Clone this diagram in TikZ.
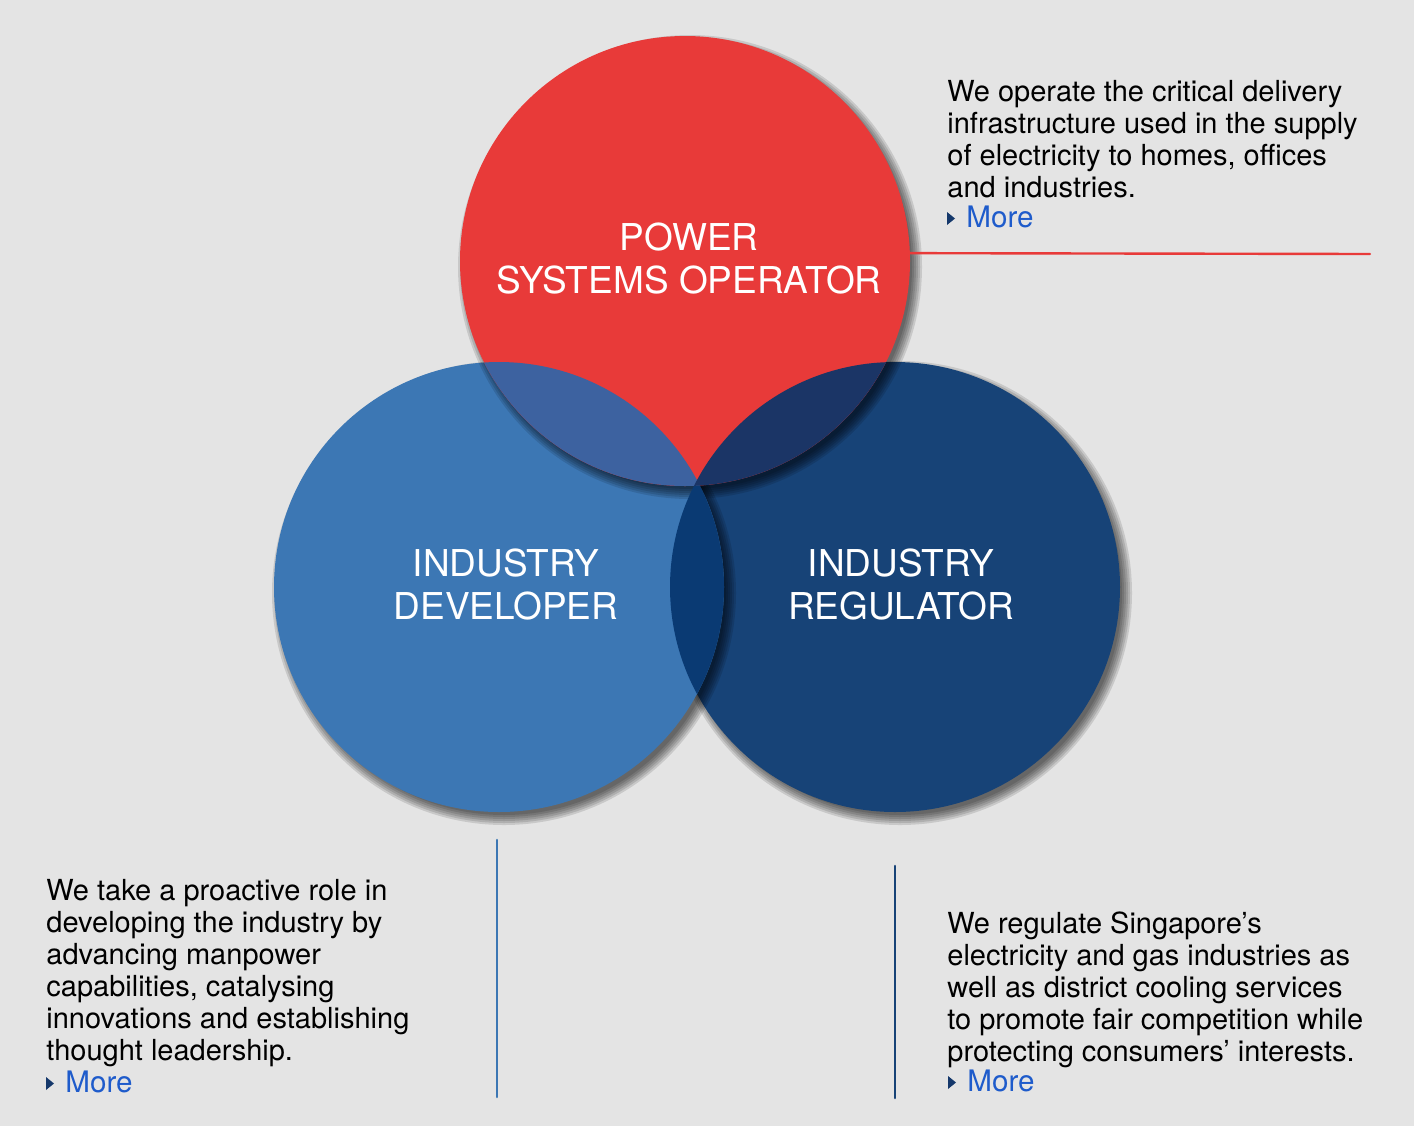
\documentclass[tikz,border=0pt]{standalone}
\usepackage{fontspec}
\setmainfont{TeX Gyre Heros}
\usetikzlibrary{positioning}

\definecolor{bggray}{HTML}{E4E4E4}
\definecolor{psored}{HTML}{E83A39}
\definecolor{devblue}{HTML}{3C77B4}
\definecolor{regblue}{HTML}{174377}
\definecolor{psodev}{HTML}{3D62A0}
\definecolor{psoreg}{HTML}{1B3566}
\definecolor{devreg}{HTML}{0A3A73}
\definecolor{moreblue}{HTML}{1E5BCB}
\definecolor{marknavy}{HTML}{15386B}

\begin{document}
\begin{tikzpicture}[line cap=round,line join=round,x=0.5pt,y=-0.5pt,
	disc/.style={circle,inner sep=0pt,minimum size=225pt},
	disctext/.style={text=white,align=center,inner sep=0pt,font=\fontsize{18.5}{21.5}\selectfont},
	para/.style={anchor=north west,inner sep=0pt,align=left,font=\fontsize{14.5}{16}\selectfont},
	more/.style={anchor=base west,inner sep=0pt,text=moreblue,font=\fontsize{14.8}{16}\selectfont}]

		%tausta
		\fill[bggray] (0,0) rectangle (1414,1126);
		\useasboundingbox (0,0) rectangle (1414,1126);

		%varjot ja ympyrat
		\foreach \r in {116pt,115pt,114pt,113pt,112pt,111pt}
		{\fill[black,opacity=0.12] (900,593) circle [radius=\r];}
		\node[disc,fill=regblue] (reg) at (895,587) {};

		\foreach \r in {116pt,115pt,114pt,113pt,112pt,111pt}
		{\fill[black,opacity=0.12] (504,593) circle [radius=\r];}
		\node[disc,fill=devblue] (dev) at (499,587) {};

		\foreach \r in {116pt,115pt,114pt,113pt,112pt,111pt}
		{\fill[black,opacity=0.12] (690,267) circle [radius=\r];}
		\node[disc,fill=psored] (pso) at (685,261) {};

		%leikkaukset
		\begin{scope}
		\clip (dev.center) circle [radius=112.5pt];
		\fill[devreg] (reg.center) circle [radius=112.5pt];
		\end{scope}
		\begin{scope}
		\clip (pso.center) circle [radius=112.5pt];
		\fill[psodev] (dev.center) circle [radius=112.5pt];
		\fill[psoreg] (reg.center) circle [radius=112.5pt];
		\end{scope}

		% Tekstit ympyroissa
		\node[disctext] (psolabel) at (689,259) {POWER\\SYSTEMS OPERATOR};
		\node[disctext] (devlabel) at (506,585) {INDUSTRY\\DEVELOPER};
		\node[disctext] (reglabel) at (901,585) {INDUSTRY\\REGULATOR};

		%viivat
		\coordinate (psoend) at (1370,254);
		\draw[psored,line width=1.2pt] (pso.2) -- (psoend);
		\coordinate (devtop) at (497,840);
		\coordinate (devbot) at (497,1097);
		\draw[devblue,line width=1.3pt] (devtop) -- (devbot);
		\coordinate (regtop) at (895,866);
		\coordinate (regbot) at (895,1098);
		\draw[regblue,line width=1.3pt] (regtop) -- (regbot);

		% Kuvaukset
		\node[para] (psonote) at (947,80) {We operate the critical delivery\\infrastructure used in the supply\\of electricity to homes, offices\\and industries.};
		\node[more] (psomore) at (966,227) {More};

		\node[para] (devnote) at (46,879) {We take a proactive role in\\developing the industry by\\advancing manpower\\capabilities, catalysing\\innovations and establishing\\thought leadership.};
		\node[more] (devmore) at (65,1092) {More};

		\node[para] (regnote) at (947,911) {We regulate Singapore’s\\electricity and gas industries as\\well as district cooling services\\to promote fair competition while\\protecting consumers’ interests.};
		\node[more] (regmore) at (967,1091) {More};

		\foreach \m in {psomore,devmore,regmore}
		{\fill[marknavy] ([shift={(-19,-15)}]\m.base west) -- ([shift={(-19,-2)}]\m.base west) -- ([shift={(-11,-8.5)}]\m.base west) -- cycle;}

	\end{tikzpicture}
\end{document}
